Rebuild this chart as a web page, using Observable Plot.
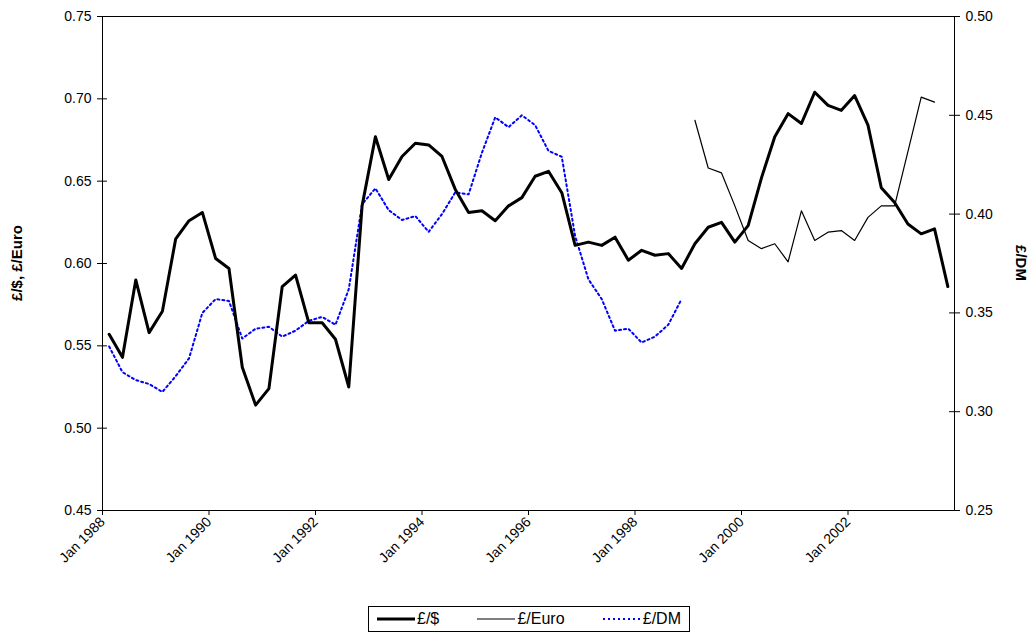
<!DOCTYPE html>
<html>
<head>
<meta charset="utf-8">
<script src="https://cdn.jsdelivr.net/npm/d3@7"></script>
<script src="https://cdn.jsdelivr.net/npm/@observablehq/plot@0.6"></script>
<style>
  body { margin: 0; font-family: "Liberation Sans", Arial, sans-serif; background: #fff; }
  #legend { position: absolute; left: 368px; top: 606px; width: 304px; border: 1px solid #000; padding: 3px 8px;
    font-size: 16px; display: flex; justify-content: space-between; align-items: center; }
  #legend span { display: flex; align-items: center; gap: 2px; }
</style>
</head>
<body>
<div id="chart"></div>
<div id="legend"></div>
<script>
// quarterly, Q1 1988 .. Q4 2003
const usd = [0.557,0.543,0.590,0.558,0.571,0.615,0.626,0.631,0.603,0.597,0.537,0.514,0.524,0.586,0.593,0.564,
  0.564,0.554,0.525,0.635,0.677,0.651,0.665,0.673,0.672,0.665,0.645,0.631,0.632,0.626,0.635,0.640,
  0.653,0.656,0.643,0.611,0.613,0.611,0.616,0.602,0.608,0.605,0.606,0.597,0.612,0.622,0.625,0.613,
  0.623,0.652,0.677,0.691,0.685,0.704,0.696,0.693,0.702,0.684,0.646,0.637,0.624,0.618,0.621,0.586];
// from Q1 1999 (index 44)
const euro = [0.687,0.658,0.655,0.635,0.614,0.609,0.612,0.601,0.632,0.614,0.619,0.620,0.614,0.628,0.635,0.635,
  0.668,0.701,0.698];
const euroStart = 44;
// until Q4 1998 (right axis)
const dm = [0.333,0.320,0.316,0.314,0.310,0.318,0.327,0.350,0.357,0.356,0.337,0.342,0.343,0.338,0.341,0.346,
  0.348,0.344,0.362,0.405,0.413,0.402,0.397,0.399,0.391,0.400,0.411,0.410,0.431,0.449,0.444,0.450,
  0.445,0.432,0.429,0.389,0.367,0.357,0.341,0.342,0.335,0.338,0.344,0.357];
const tickYears = [1988,1990,1992,1994,1996,1998,2000,2002];

// map the right (DM) scale onto the left one
const toLeft = v => 0.45 + (v - 0.25) * 1.2;
const toRight = v => (v - 0.45) / 1.2 + 0.25;

const usdData = usd.map((v, i) => ({i, v}));
const euroData = euro.map((v, k) => ({i: k + euroStart, v}));
const dmData = dm.map((v, i) => ({i, v: toLeft(v)}));
const leftTicks = d3.range(0.45, 0.751, 0.05);
const rightTicks = d3.range(0.25, 0.501, 0.05).map(toLeft);

const plot = Plot.plot({
  width: 1035, height: 590,
  marginLeft: 102, marginRight: 81, marginTop: 16, marginBottom: 80,
  style: {fontFamily: "Liberation Sans, Arial, sans-serif", fontSize: "14px", color: "#000"},
  x: {type: "linear", domain: [-0.5, 63.5]},
  y: {domain: [0.45, 0.75]},
  marks: [
    Plot.frame({stroke: "#000", strokeWidth: 1}),
    Plot.axisX({ticks: tickYears.map((y, k) => -0.5 + 8 * k), tickFormat: d => "Jan " + (1988 + Math.round((d + 0.5) / 4)),
      tickRotate: -45, tickSize: 5, fontSize: 14, label: null, tickPadding: 4}),
    Plot.axisY({ticks: leftTicks, tickFormat: d3.format(".2f"), tickSize: 5, fontSize: 14,
      label: null, tickPadding: 6}),
    Plot.axisY({anchor: "right", ticks: rightTicks,
      tickFormat: d => toRight(d).toFixed(2), tickSize: 5, fontSize: 14, label: null, tickPadding: 6}),
    // inner halves of the crossing tick marks
    Plot.ruleY(leftTicks, {x1: -0.5, x2: -0.13, stroke: "#000"}),
    Plot.ruleY(rightTicks, {x1: 63.13, x2: 63.5, stroke: "#000"}),
    Plot.line(dmData, {x: "i", y: "v", stroke: "#0000ff", strokeWidth: 2, strokeDasharray: "2,3"}),
    Plot.line(euroData, {x: "i", y: "v", stroke: "#000", strokeWidth: 1.2}),
    Plot.line(usdData, {x: "i", y: "v", stroke: "#000", strokeWidth: 3})
  ]
});
document.getElementById("chart").append(plot);

const svg = d3.select(plot);
svg.append("text").attr("transform", "translate(22,263) rotate(-90)").attr("text-anchor", "middle")
  .attr("font-weight", "bold").attr("font-size", 15).text("£/$, £/Euro");
svg.append("text").attr("transform", "translate(1016,263) rotate(90)").attr("text-anchor", "middle")
  .attr("font-weight", "bold").attr("font-size", 15).text("£/DM");

const legendItems = [
  {name: "£/$", w: 3, c: "#000", dash: null},
  {name: "£/Euro", w: 1.2, c: "#000", dash: null},
  {name: "£/DM", w: 2, c: "#0000ff", dash: "2,3"}
];
const leg = d3.select("#legend");
legendItems.forEach(d => {
  const s = leg.append("span");
  const ls = s.append("svg").attr("width", 38).attr("height", 12);
  ls.append("line").attr("x1", 0).attr("x2", 38).attr("y1", 6).attr("y2", 6)
    .attr("stroke", d.c).attr("stroke-width", d.w).attr("stroke-dasharray", d.dash);
  s.append("span").text(d.name);
});
</script>
</body>
</html>
